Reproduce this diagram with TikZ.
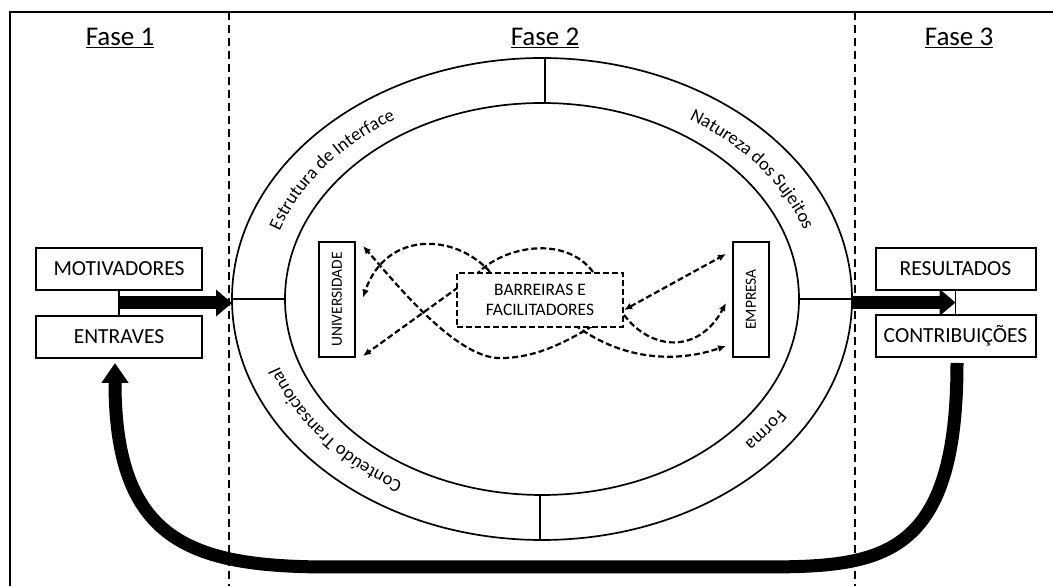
\documentclass[tikz,border=0pt]{standalone}
\usepackage{fontspec}
\setmainfont{Carlito}
\usetikzlibrary{arrows.meta,positioning,calc,shapes.geometric,decorations.text,backgrounds}
\tikzset{
  bx/.style={draw, line width=2pt, minimum width=166, minimum height=42, inner sep=0pt, font=\fontsize{21.5}{24}\selectfont},
  vbx/.style={draw, line width=2pt, minimum width=36, minimum height=115, inner sep=0pt, font=\fontsize{15.5}{18}\selectfont},
  rng/.style={ellipse, draw, line width=1.7pt, inner sep=0pt, outer sep=0pt},
  fase/.style={font=\fontsize{27}{30}\selectfont},
  phase/.style={line width=2pt, dash pattern=on 8pt off 5pt},
  thin/.style={line width=1.7pt},
  fat/.style={line width=13pt, -{Triangle[length=16pt,width=26pt]}},
  ret/.style={line width=13pt, -{Triangle[length=20pt,width=26pt]}},
  dsh/.style={line width=2.2pt, dash pattern=on 6pt off 3pt},
  darr/.style={dsh, -{Latex[length=8pt,width=7pt]}},
  darr2/.style={dsh, {Latex[length=8pt,width=7pt]}-{Latex[length=8pt,width=7pt]}},
  band/.style={decorate, decoration={text along path, text align=center, text={|\fontsize{18.5}{20}\selectfont|#1}}},
}
\begin{document}
\begin{tikzpicture}[x=1pt, y=1pt]
  \useasboundingbox (0,0) rectangle (1053,586);
  % frame and phases
  \draw[line width=2.5pt] (10,0) -- (10,574) -- (1053,574);
  \draw[phase] (229,574) -- (229,0);
  \draw[phase] (855,574) -- (855,0);
  \node[fase] (f1) at (120,548) {\underline{Fase 1}};
  \node[fase] (f2) at (545,548) {\underline{Fase 2}};
  \node[fase] (f3) at (959,548) {\underline{Fase 3}};

  % the two rings
  \node[rng, minimum width=620, minimum height=482] (ring) at (542,287) {};
  \node[rng, minimum width=514, minimum height=392] (core) at (542,287) {};
  \draw[thin] ([xshift=3]ring.north) -- ([xshift=3]core.north);
  \draw[thin] ([xshift=-2]core.south) -- ([xshift=-2]ring.south);
  \draw[thin] (ring.west) -- (core.west);
  \draw[thin] (core.east) -- (ring.east);
  \path[band={Estrutura de Interface}] ($(core.center)+(194:277 and 212)$) arc[start angle=194, end angle=96, x radius=277, y radius=212];
  \path[band={Natureza dos Sujeitos}] ($(core.center)+(84:277 and 212)$) arc[start angle=84, end angle=-14, x radius=277, y radius=212];
  \path[band={Conteúdo Transacional}] ($(core.center)+(264:277 and 212)$) arc[start angle=264, end angle=168, x radius=277, y radius=212];
  \path[band={Forma}] ($(core.center)+(348:277 and 212)$) arc[start angle=348, end angle=300, x radius=277, y radius=212];

  % actors and the middle box
  \node[vbx] (univ) at (337,286.5) {\rotatebox{90}{UNIVERSIDADE}};
  \node[vbx] (emp) at (751,286.5) {\rotatebox{90}{EMPRESA}};
  \node[draw, fill=white, dsh, minimum width=166, minimum height=54, inner sep=0pt, align=center,
        font=\fontsize{17.5}{20}\selectfont] (bar) at (540,286) {BARREIRAS E\\FACILITADORES};

  \begin{pgfonlayer}{background}
    \draw[darr] ([xshift=-50]bar.north) .. controls +(-35,39) and +(23,67) .. ([xshift=7,yshift=2]univ.east);
    \draw[darr] ([xshift=53]bar.north) .. controls +(-28,37) and +(27,28) .. ([xshift=21,yshift=-2]bar.north west) -- ([xshift=7,yshift=2]univ.south east);
    \draw[darr] ([xshift=60,yshift=7]bar.south) .. controls +(-40,-26) and +(30,0) .. ([xshift=-40,yshift=-30]bar.south)
                .. controls +(-45,0) and +(30,-34) .. ([xshift=7,yshift=-5]univ.north east);
    \draw[darr] ([xshift=35,yshift=3]bar.south) .. controls +(50,-37) and +(-47,-16) .. ([xshift=-6,yshift=12]emp.south west);
    \draw[darr] ([yshift=-15]bar.east) .. controls +(27,-36) and +(-27,-51) .. ([xshift=-6,yshift=-3.5]emp.west);
  \end{pgfonlayer}
  \draw[darr2] ([yshift=-10]bar.east) -- ([xshift=-6,yshift=-13]emp.north west);

  % phase 1 and phase 3 boxes
  \node[bx] (mot) at (119,317) {MOTIVADORES};
  \node[bx] (ent) at (119,249) {ENTRAVES};
  \node[bx, minimum width=160] (res) at (955.5,317) {RESULTADOS};
  \node[bx, minimum width=160] (con) at (955.5,250) {CONTRIBUIÇÕES};
  \coordinate (jl) at ($(mot.south)!.5!(ent.north)$);
  \coordinate (jr) at ($(res.south)!.5!(con.north)$);
  \draw[thin] (mot.south) -- (ent.north);
  \draw[thin] (res.south) -- (con.north);
  \draw[fat] (jl) -- (jl -| ring.west);
  \draw[fat] (ring.east |- jr) -- (jr);
  \draw[ret] ([xshift=1.5,yshift=-5]con.south) .. controls +(0,-198) and +(120,0) .. (760,19) -- (330,19)
             .. controls +(-140,0) and +(0,-178) .. ([xshift=-4,yshift=-4]ent.south);
\end{tikzpicture}
\end{document}
